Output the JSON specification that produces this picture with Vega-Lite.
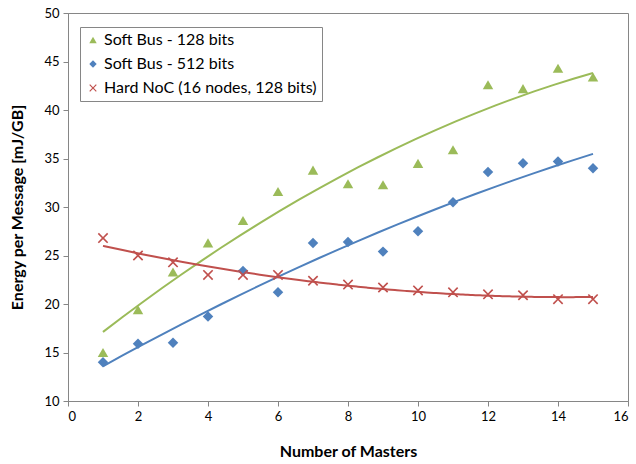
{
  "$schema": "https://vega.github.io/schema/vega-lite/v6.json",
  "width": 560,
  "height": 388,
  "autosize": "none",
  "padding": {"left": 68, "top": 13, "right": 8, "bottom": 63},
  "background": "white",
  "config": {
    "font": "Lato",
    "view": {"stroke": "#868686", "strokeWidth": 1},
    "axis": {
      "grid": false,
      "domainColor": "#868686",
      "tickColor": "#868686",
      "tickSize": 5,
      "labelFont": "Lato",
      "labelFontSize": 13,
      "labelColor": "#000000",
      "titleFont": "Lato",
      "titleFontSize": 16,
      "titleFontWeight": "bold",
      "titleColor": "#000000"
    }
  },
  "data": {
    "values": [
      {"n": 1, "series": "Soft Bus - 128 bits", "e": 15.0},
      {"n": 2, "series": "Soft Bus - 128 bits", "e": 19.4},
      {"n": 3, "series": "Soft Bus - 128 bits", "e": 23.3},
      {"n": 4, "series": "Soft Bus - 128 bits", "e": 26.3},
      {"n": 5, "series": "Soft Bus - 128 bits", "e": 28.6},
      {"n": 6, "series": "Soft Bus - 128 bits", "e": 31.6},
      {"n": 7, "series": "Soft Bus - 128 bits", "e": 33.8},
      {"n": 8, "series": "Soft Bus - 128 bits", "e": 32.4},
      {"n": 9, "series": "Soft Bus - 128 bits", "e": 32.3},
      {"n": 10, "series": "Soft Bus - 128 bits", "e": 34.5},
      {"n": 11, "series": "Soft Bus - 128 bits", "e": 35.9},
      {"n": 12, "series": "Soft Bus - 128 bits", "e": 42.6},
      {"n": 13, "series": "Soft Bus - 128 bits", "e": 42.2},
      {"n": 14, "series": "Soft Bus - 128 bits", "e": 44.3},
      {"n": 15, "series": "Soft Bus - 128 bits", "e": 43.4},
      {"n": 1, "series": "Soft Bus - 512 bits", "e": 14.0},
      {"n": 2, "series": "Soft Bus - 512 bits", "e": 15.9},
      {"n": 3, "series": "Soft Bus - 512 bits", "e": 16.0},
      {"n": 4, "series": "Soft Bus - 512 bits", "e": 18.7},
      {"n": 5, "series": "Soft Bus - 512 bits", "e": 23.4},
      {"n": 6, "series": "Soft Bus - 512 bits", "e": 21.2},
      {"n": 7, "series": "Soft Bus - 512 bits", "e": 26.3},
      {"n": 8, "series": "Soft Bus - 512 bits", "e": 26.4},
      {"n": 9, "series": "Soft Bus - 512 bits", "e": 25.4},
      {"n": 10, "series": "Soft Bus - 512 bits", "e": 27.5},
      {"n": 11, "series": "Soft Bus - 512 bits", "e": 30.5},
      {"n": 12, "series": "Soft Bus - 512 bits", "e": 33.6},
      {"n": 13, "series": "Soft Bus - 512 bits", "e": 34.5},
      {"n": 14, "series": "Soft Bus - 512 bits", "e": 34.7},
      {"n": 15, "series": "Soft Bus - 512 bits", "e": 34.0},
      {"n": 1, "series": "Hard NoC (16 nodes, 128 bits)", "e": 26.8},
      {"n": 2, "series": "Hard NoC (16 nodes, 128 bits)", "e": 25.0},
      {"n": 3, "series": "Hard NoC (16 nodes, 128 bits)", "e": 24.3},
      {"n": 4, "series": "Hard NoC (16 nodes, 128 bits)", "e": 23.0},
      {"n": 5, "series": "Hard NoC (16 nodes, 128 bits)", "e": 23.0},
      {"n": 6, "series": "Hard NoC (16 nodes, 128 bits)", "e": 23.0},
      {"n": 7, "series": "Hard NoC (16 nodes, 128 bits)", "e": 22.4},
      {"n": 8, "series": "Hard NoC (16 nodes, 128 bits)", "e": 22.0},
      {"n": 9, "series": "Hard NoC (16 nodes, 128 bits)", "e": 21.7},
      {"n": 10, "series": "Hard NoC (16 nodes, 128 bits)", "e": 21.4},
      {"n": 11, "series": "Hard NoC (16 nodes, 128 bits)", "e": 21.2},
      {"n": 12, "series": "Hard NoC (16 nodes, 128 bits)", "e": 21.0},
      {"n": 13, "series": "Hard NoC (16 nodes, 128 bits)", "e": 20.9},
      {"n": 14, "series": "Hard NoC (16 nodes, 128 bits)", "e": 20.5},
      {"n": 15, "series": "Hard NoC (16 nodes, 128 bits)", "e": 20.5}
    ]
  },
  "layer": [
    {
      "transform": [
        {"filter": {"field": "series", "equal": "Soft Bus - 128 bits"}},
        {"regression": "e", "on": "n", "method": "poly", "order": 2, "extent": [1, 15]}
      ],
      "mark": {"type": "line", "strokeWidth": 2, "interpolate": "monotone", "color": "#9BBB59"},
      "encoding": {
        "x": {"field": "n", "type": "quantitative"},
        "y": {"field": "e", "type": "quantitative"}
      }
    },
    {
      "transform": [
        {"filter": {"field": "series", "equal": "Soft Bus - 512 bits"}},
        {"regression": "e", "on": "n", "method": "poly", "order": 2, "extent": [1, 15]}
      ],
      "mark": {"type": "line", "strokeWidth": 2, "interpolate": "monotone", "color": "#4F81BD"},
      "encoding": {
        "x": {"field": "n", "type": "quantitative"},
        "y": {"field": "e", "type": "quantitative"}
      }
    },
    {
      "transform": [
        {"filter": {"field": "series", "equal": "Hard NoC (16 nodes, 128 bits)"}},
        {"regression": "e", "on": "n", "method": "poly", "order": 2, "extent": [1, 15]}
      ],
      "mark": {"type": "line", "strokeWidth": 2, "interpolate": "monotone", "color": "#C0504D"},
      "encoding": {
        "x": {"field": "n", "type": "quantitative"},
        "y": {"field": "e", "type": "quantitative"}
      }
    },
    {
      "mark": {"type": "point", "filled": true, "opacity": 1, "size": 110},
      "encoding": {
        "x": {
          "field": "n", "type": "quantitative",
          "scale": {"domain": [0, 16], "nice": false, "zero": false},
          "axis": {"values": [0, 2, 4, 6, 8, 10, 12, 14, 16], "title": "Number of Masters", "titlePadding": 20, "labelPadding": 4}
        },
        "y": {
          "field": "e", "type": "quantitative",
          "scale": {"domain": [10, 50], "nice": false, "zero": false},
          "axis": {"values": [10, 15, 20, 25, 30, 35, 40, 45, 50], "title": "Energy per Message [mJ/GB]", "titlePadding": 18, "labelPadding": 4}
        },
        "color": {
          "field": "series", "type": "nominal",
          "scale": {
            "domain": ["Soft Bus - 128 bits", "Soft Bus - 512 bits", "Hard NoC (16 nodes, 128 bits)"],
            "range": ["#9BBB59", "#4F81BD", "#C0504D"]
          },
          "legend": {
            "title": null,
            "orient": "none",
            "legendX": 12,
            "legendY": 14,
            "padding": 5,
            "strokeColor": "#868686",
            "fillColor": "white",
            "labelFont": "Lato",
            "labelFontSize": 16,
            "labelColor": "#000000",
            "labelLimit": 400,
            "symbolSize": 55,
            "rowPadding": 8,
            "labelOffset": 3,
            "symbolOpacity": 1
          }
        },
        "shape": {
          "field": "series", "type": "nominal",
          "scale": {
            "domain": ["Soft Bus - 128 bits", "Soft Bus - 512 bits", "Hard NoC (16 nodes, 128 bits)"],
            "range": ["triangle-up", "diamond", "M-0.78,-1L0,-0.22L0.78,-1L1,-0.78L0.22,0L1,0.78L0.78,1L0,0.22L-0.78,1L-1,0.78L-0.22,0L-1,-0.78Z"]
          }
        }
      }
    }
  ]
}
